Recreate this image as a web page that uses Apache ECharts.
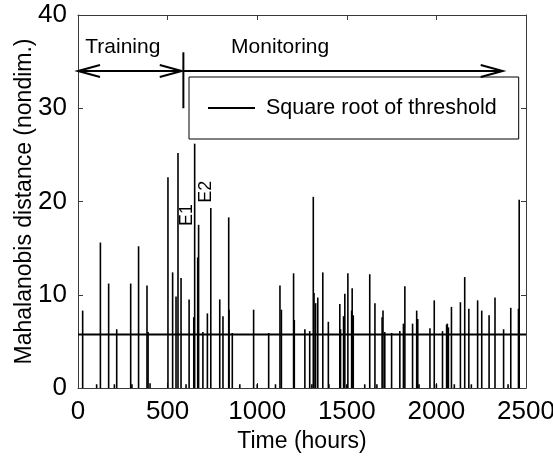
<!DOCTYPE html>
<html><head><meta charset="utf-8">
<script src="https://cdn.jsdelivr.net/npm/echarts@6/dist/echarts.min.js"></script>
<style>html,body{margin:0;padding:0;background:#fff}#c{width:553px;height:467px}</style>
</head><body><div id="c"></div>
<script>
// ---- data ----
const spikeHours = [26,104,125,171,203,216,294,301,338,385,391,402,
  502,528,547,558,575,603,620,646,651,668,673,697,722,741,791,809,841,843,861,
  903,980,1000,1064,1102,1127,1135,1203,1207,1266,1293,1305,1313,1317,1326,1338,
  1366,1397,1400,1461,1465,1482,1489,1500,1506,1527,1530,1536,1600,1628,1657,1668,
  1697,1702,1712,1750,1796,1816,1824,1867,1890,1896,1903,1964,1988,2000,2034,2057,
  2061,2067,2084,2100,2134,2158,2181,2195,2230,2253,2294,2327,2375,2400,2415,2458,2462];
const spikeValues = [8.3,0.4,15.6,11.2,0.4,6.3,11.2,0.4,15.2,11.0,6.0,0.5,
  22.6,12.4,9.8,25.2,11.8,0.4,9.5,7.6,26.2,14.0,17.5,6.0,8.0,19.3,9.5,7.7,18.3,8.4,5.9,
  0.4,8.4,0.4,5.9,0.4,11.0,8.4,12.3,7.3,6.3,6.1,0.4,20.5,10.2,9.1,9.7,
  12.4,7.1,0.4,9.0,6.3,7.7,10.1,0.4,12.3,8.3,10.7,7.8,0.4,12.2,9.1,0.4,
  7.6,8.3,6.0,5.9,6.1,6.9,10.9,6.9,8.3,7.4,0.4,6.4,9.4,0.4,6.1,6.8,
  6.9,6.5,8.7,0.4,9.2,11.9,8.5,0.4,9.4,8.3,7.8,9.7,6.3,0.4,8.6,8.5,20.2];
const thresholdValue = 5.75;
const thresholdName = 'Square root of threshold';
const xTickValues = [0, 500, 1000, 1500, 2000, 2500];
const yTickValues = [0, 10, 20, 30, 40];
// annotation arrows (hours) at a level
const arrowStarts = [0, 588];
const arrowEnds = [579, 2370];
const arrowLeftHeads = [true, false];
const arrowRightHeads = [true, true];
const arrowLevel = 34;
const dividerHour = 588;
const dividerRange = [30, 36];
// text annotations
const noteTexts = ['Training', 'Monitoring', 'E1', 'E2'];
const noteHours = [250, 1128, 610, 714];
const noteValues = [36.5, 36.5, 18.55, 21.05];
const noteRotated = [false, false, true, true];

const FONT = 'Liberation Sans, Arial, Helvetica, sans-serif';
const chart = echarts.init(document.getElementById('c'), null, {renderer: 'canvas'});

const spikeData = spikeHours.map((h, i) => [h, spikeValues[i]]);
const arrowData = arrowStarts.map((s, i) => [s, arrowEnds[i], arrowLevel]);
const noteData = noteHours.map((h, i) => [h, noteValues[i]]);

function axisCommon(show) {
  return {
    axisLine: {show: true, onZero: false, lineStyle: {color: '#3a3a3a', width: 1}},
    axisTick: {show: true, inside: true, length: 5, lineStyle: {color: '#3a3a3a'}},
    splitLine: {show: false},
    axisLabel: {show: show, color: '#000', fontSize: 26, fontFamily: FONT, margin: 11,
      formatter: function (v) { return String(v); }}
  };
}

const option = {
  animation: false,
  backgroundColor: '#fff',
  grid: {left: 78, top: 15, right: 27, bottom: 79, outerBoundsMode: 'none'},
  legend: {
    data: [thresholdName],
    left: 189, top: 77,
    padding: [20, 22, 20, 19],
    borderColor: '#000', borderWidth: 1,
    backgroundColor: '#fff',
    icon: 'rect', itemWidth: 47, itemHeight: 2,
    itemStyle: {color: '#000'},
    textStyle: {fontSize: 21.5, fontFamily: FONT, color: '#000', padding: [0, 0, 0, 6], lineHeight: 21},
    selectedMode: false
  },
  xAxis: [
    Object.assign({type: 'value', min: xTickValues[0], max: xTickValues[xTickValues.length - 1],
      interval: xTickValues[1] - xTickValues[0], position: 'bottom',
      name: 'Time (hours)', nameLocation: 'middle', nameGap: 42, nameMoveOverlap: false,
      nameTextStyle: {fontSize: 23, fontFamily: FONT, color: '#000'}}, axisCommon(true)),
    Object.assign({type: 'value', min: xTickValues[0], max: xTickValues[xTickValues.length - 1],
      interval: xTickValues[1] - xTickValues[0], position: 'top'}, axisCommon(false))
  ],
  yAxis: [
    Object.assign({type: 'value', min: yTickValues[0], max: yTickValues[yTickValues.length - 1],
      interval: yTickValues[1] - yTickValues[0], position: 'left',
      name: 'Mahalanobis distance (nondim.)', nameLocation: 'middle', nameGap: 42, nameMoveOverlap: false,
      nameTextStyle: {fontSize: 23, fontFamily: FONT, color: '#000'}}, axisCommon(true)),
    Object.assign({type: 'value', min: yTickValues[0], max: yTickValues[yTickValues.length - 1],
      interval: yTickValues[1] - yTickValues[0], position: 'right'}, axisCommon(false))
  ],
  series: [
    {
      type: 'custom', name: 'spikes', xAxisIndex: 0, yAxisIndex: 0, silent: true,
      data: spikeData, encode: {x: 0, y: 1}, clip: true, z: 2,
      renderItem: function (params, api) {
        const p0 = api.coord([api.value(0), 0]);
        const p1 = api.coord([api.value(0), api.value(1)]);
        return {type: 'line', shape: {x1: p0[0], y1: p0[1], x2: p1[0], y2: p1[1]},
          style: {stroke: '#000', lineWidth: 1.6}};
      }
    },
    {
      type: 'line', name: thresholdName, xAxisIndex: 0, yAxisIndex: 0, silent: true,
      data: [[xTickValues[0], thresholdValue], [xTickValues[xTickValues.length - 1], thresholdValue]],
      symbol: 'none', lineStyle: {color: '#000', width: 2}, itemStyle: {color: '#000'}, z: 3
    },
    {
      type: 'custom', name: 'arrows', xAxisIndex: 0, yAxisIndex: 0, silent: true,
      data: arrowData, encode: {x: [0, 1], y: 2}, z: 4,
      renderItem: function (params, api) {
        const i = params.dataIndex;
        const a = api.coord([api.value(0), api.value(2)]);
        const b = api.coord([api.value(1), api.value(2)]);
        const kids = [{type: 'line', shape: {x1: a[0], y1: a[1], x2: b[0], y2: b[1]},
          style: {stroke: '#000', lineWidth: 2}}];
        const L = 22, H = 6;
        if (arrowLeftHeads[i]) kids.push({type: 'polyline',
          shape: {points: [[a[0] + L, a[1] - H], [a[0], a[1]], [a[0] + L, a[1] + H]]},
          style: {stroke: '#000', lineWidth: 2, fill: null}});
        if (arrowRightHeads[i]) kids.push({type: 'polyline',
          shape: {points: [[b[0] - L, b[1] - H], [b[0], b[1]], [b[0] - L, b[1] + H]]},
          style: {stroke: '#000', lineWidth: 2, fill: null}});
        if (i === 0) {
          const d0 = api.coord([dividerHour, dividerRange[0]]);
          const d1 = api.coord([dividerHour, dividerRange[1]]);
          kids.push({type: 'line', shape: {x1: d0[0], y1: d0[1], x2: d1[0], y2: d1[1]},
            style: {stroke: '#000', lineWidth: 2}});
        }
        return {type: 'group', children: kids};
      }
    },
    {
      type: 'custom', name: 'notes', xAxisIndex: 0, yAxisIndex: 0, silent: true,
      data: noteData, encode: {x: 0, y: 1}, z: 5,
      renderItem: function (params, api) {
        const i = params.dataIndex;
        const p = api.coord([api.value(0), api.value(1)]);
        const rot = noteRotated[i];
        return {type: 'text', x: p[0], y: p[1], rotation: rot ? Math.PI / 2 : 0,
          style: {text: noteTexts[i], x: 0, y: 0, align: 'center', verticalAlign: 'middle',
            fill: '#000', font: (rot ? 18 : 21) + 'px ' + FONT}};
      }
    }
  ]
};
chart.setOption(option);
</script>
</body></html>
